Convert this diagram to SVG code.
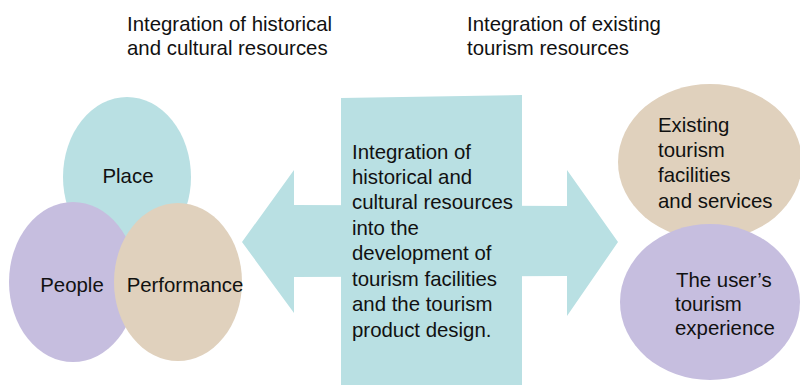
<svg xmlns="http://www.w3.org/2000/svg" width="800" height="385" viewBox="0 0 800 385">
<style>
text{font-family:"Liberation Sans",Arial,sans-serif;font-size:20.4px;fill:#111}
.teal{fill:#b9e0e3}
.purple{fill:#c6bedf}
.tan{fill:#e0d1bd}
.mid{text-anchor:middle}
</style>
<rect width="800" height="385" fill="#ffffff"/>
<g id="title-left">
<text x="127" y="31">Integration of historical</text>
<text x="127" y="55">and cultural resources</text>
</g>
<g id="title-right">
<text x="467" y="31">Integration of existing</text>
<text x="467" y="55">tourism resources</text>
</g>
<g id="connectors">
<polygon class="teal" points="242,242 294,170 294,205 567,206 567,170 618,242 567,316 567,276 294,277 294,313"/>
</g>
<g id="center">
<polygon class="teal" points="341,98 522,95 522,385 341,385"/>
<text x="352" y="159">Integration of</text>
<text x="352" y="184">historical and</text>
<text x="352" y="209">cultural resources</text>
<text x="352" y="235">into the</text>
<text x="352" y="260">development of</text>
<text x="352" y="286">tourism facilities</text>
<text x="352" y="311">and the tourism</text>
<text x="352" y="337">product design.</text>
</g>
<g id="place">
<ellipse class="teal" cx="127" cy="177" rx="64" ry="80"/>
<text class="mid" x="128" y="183">Place</text>
</g>
<g id="people">
<ellipse class="purple" cx="73" cy="282" rx="64" ry="80"/>
<text class="mid" x="72" y="292">People</text>
</g>
<g id="performance">
<ellipse class="tan" cx="178" cy="282" rx="64" ry="79"/>
<text class="mid" x="185" y="292">Performance</text>
</g>
<g id="existing">
<ellipse class="tan" cx="710" cy="162" rx="92" ry="78"/>
<text x="658" y="132">Existing</text>
<text x="658" y="157">tourism</text>
<text x="658" y="182">facilities</text>
<text x="658" y="208">and services</text>
</g>
<g id="experience">
<ellipse class="purple" cx="710" cy="302" rx="90" ry="78"/>
<text x="676" y="287">The user’s</text>
<text x="675" y="311">tourism</text>
<text x="675" y="335">experience</text>
</g>
</svg>
